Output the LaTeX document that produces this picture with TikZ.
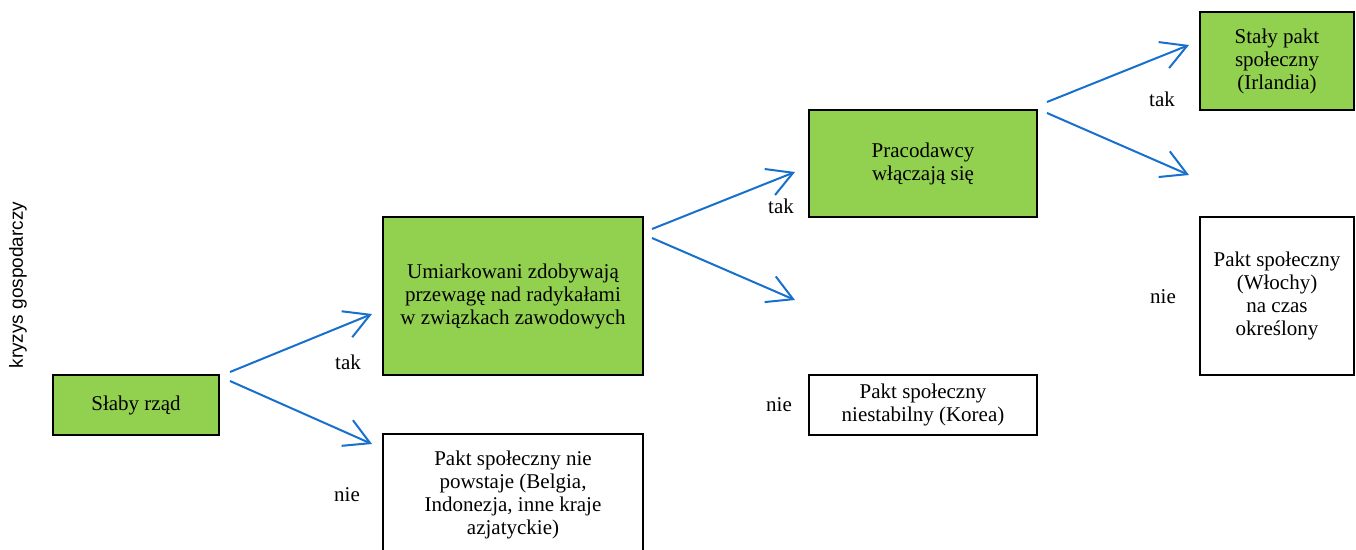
\documentclass[tikz,border=0pt]{standalone}
\usepackage{fontspec}
\setmainfont{Liberation Serif}
\newfontfamily\sidesans{Liberation Sans}
\usetikzlibrary{arrows.meta}
\definecolor{boxgreen}{RGB}{146,208,80}
\definecolor{arrowblue}{RGB}{24,112,206}
\begin{document}
\begin{tikzpicture}[x=1pt,y=-1pt,
  every node/.style={font=\fontsize{21}{23}\selectfont, inner sep=0pt},
  box/.style={draw=black, line width=2.5pt, align=center},
  greenbox/.style={box, fill=boxgreen},
  whitebox/.style={box, fill=white},
  arr/.style={draw=arrowblue, line width=2pt, -{Straight Barb[length=25pt,width=28pt,line width=2pt]}},
  lbl/.style={}]
\useasboundingbox (0,0) rectangle (1356,549);
\fill[white] (0,0) rectangle (1356,549);

% boxes
\node[greenbox, minimum width=166pt, minimum height=60pt] (slaby) at (136,405) {Słaby rząd};
\node[greenbox, minimum width=260pt, minimum height=158pt] (umiark) at (513,296)
  {Umiarkowani zdobywają\\przewagę nad radykałami\\w związkach zawodowych};
\node[whitebox, minimum width=260pt, minimum height=122pt] (belgia) at (513,495)
  {Pakt społeczny nie\\powstaje (Belgia,\\Indonezja, inne kraje\\azjatyckie)};
\node[greenbox, minimum width=228pt, minimum height=107pt] (praco) at (923,163.5)
  {Pracodawcy\\włączają się};
\node[whitebox, minimum width=228pt, minimum height=60pt] (korea) at (923,405)
  {Pakt społeczny\\niestabilny (Korea)};
\node[greenbox, minimum width=154pt, minimum height=98pt] (staly) at (1277,61)
  {Stały pakt\\społeczny\\(Irlandia)};
\node[whitebox, minimum width=154pt, minimum height=158pt] (wlochy) at (1277,296)
  {Pakt społeczny\\(Włochy)\\na czas\\określony};

% side label
\node[rotate=90, font=\sidesans\fontsize{19}{21}\selectfont] (kryzys) at (18,285) {kryzys gospodarczy};

% labels
\node[lbl] (tak1) at (348,362) {tak};
\node[lbl] (nie1) at (347,495) {nie};
\node[lbl] (tak2) at (781,206) {tak};
\node[lbl] (nie2) at (779,405) {nie};
\node[lbl] (tak3) at (1162,99) {tak};
\node[lbl] (nie3) at (1163,297) {nie};

% arrow end points
\coordinate (a1s) at (230,372);
\coordinate (a1e) at (372,314);
\coordinate (a2s) at (230,381);
\coordinate (a2e) at (372,444);
\coordinate (b1s) at (652,229);
\coordinate (b1e) at (795,172);
\coordinate (b2s) at (652,238);
\coordinate (b2e) at (795,300);
\coordinate (c1s) at (1047,102);
\coordinate (c1e) at (1189,45);
\coordinate (c2s) at (1047,113);
\coordinate (c2e) at (1189,175);

\draw[arr] (a1s) -- (a1e);
\draw[arr] (a2s) -- (a2e);
\draw[arr] (b1s) -- (b1e);
\draw[arr] (b2s) -- (b2e);
\draw[arr] (c1s) -- (c1e);
\draw[arr] (c2s) -- (c2e);
\end{tikzpicture}
\end{document}
